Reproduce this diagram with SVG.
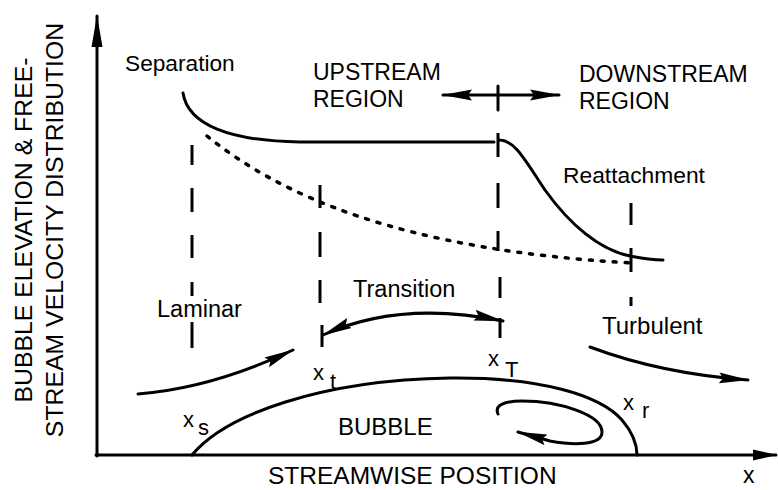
<svg xmlns="http://www.w3.org/2000/svg" width="778" height="490" viewBox="0 0 778 490">
<style>
.ln{fill:none;stroke:#000;stroke-width:3;stroke-linecap:round;stroke-linejoin:round}
.dash{fill:none;stroke:#000;stroke-width:3;stroke-linecap:butt}
.dot{fill:none;stroke:#000;stroke-width:3.5;stroke-linecap:round;stroke-dasharray:3 9}
.t{font-family:"Liberation Sans",Arial,Helvetica,sans-serif;fill:#000}
</style>
<defs>
<marker id="ah" markerUnits="userSpaceOnUse" viewBox="0 0 30 12" markerWidth="30" markerHeight="12" refX="29" refY="6" orient="auto-start-reverse">
<path d="M0,0.5 L30,6 L0,11.5 L4,6 Z" fill="#000"/>
</marker>
<marker id="axv" markerUnits="userSpaceOnUse" viewBox="0 0 32 12" markerWidth="32" markerHeight="12" refX="31" refY="6" orient="auto">
<path d="M0,0.5 L32,6 L0,11.5 Z" fill="#000"/>
</marker>
<marker id="axh" markerUnits="userSpaceOnUse" viewBox="0 0 24 12" markerWidth="24" markerHeight="12" refX="23" refY="6" orient="auto">
<path d="M0,0.5 L24,6 L0,11.5 Z" fill="#000"/>
</marker>
</defs>

<g id="axes">
<path class="ln" d="M97,456 L97,16" marker-end="url(#axv)"/>
<path class="ln" d="M96,455 L776,455" marker-end="url(#axh)"/>
</g>

<g id="connectors">
<path id="velocity" class="ln" d="M183,93 C188,125 230,141 300,142 L494,142"/>
<path id="velocity2" class="ln" d="M499,140 C515,140 525,160 545,190 C570,225 600,250 630,256 C645,259 655,260 663,260"/>
<path id="elevation" class="dot" d="M207,136 C280,195 400,250 632,263"/>
<path id="bubble" class="ln" d="M192,455 C225,415 320,380 450,378 C540,377 600,395 622,420 C633,433 637,445 637,455"/>
<path id="vortex" class="ln" d="M498,414 C494,405 505,401 522,401 C560,401 602,415 602,432 C602,446 572,445 550,441 L518,432" marker-end="url(#ah)"/>
<path id="laminar-arrow" class="ln" d="M138,394 C190,390 240,375 293,350" marker-end="url(#ah)"/>
<path id="turbulent-arrow" class="ln" d="M590,347 C630,362 680,375 748,380" marker-end="url(#ah)"/>
<path id="transition-arrow" class="ln" d="M323,335 Q400,300 503,321" marker-start="url(#ah)" marker-end="url(#ah)"/>
<path id="region-arrow" class="ln" d="M443,95 L559,95" marker-start="url(#ah)" marker-end="url(#ah)"/>
<path class="ln" d="M498,86 L498,110"/>
<path class="dash" d="M192,145 V165 M192,188 V212 M192,235 V258 M192,282 V296 M192,322 V348"/>
<path class="dash" d="M320,185 V208 M320,232 V257 M320,280 V303 M322,325 V347"/>
<path class="dash" d="M498,133 V157 M498,183 V208 M498,231 V251 M500,277 V298 M500,318 V338"/>
<path class="dash" d="M631,203 V225 M631,248 V272 M631,297 V306"/>
</g>

<g id="labels" class="t">
<text class="t" font-size="24.8" text-anchor="middle" transform="translate(32,230) rotate(-90)">BUBBLE ELEVATION &amp; FREE-</text>
<text class="t" font-size="24.8" text-anchor="middle" transform="translate(63,230) rotate(-90)">STREAM VELOCITY DISTRIBUTION</text>
<text class="t" x="125" y="71" font-size="22.7">Separation</text>
<text class="t" x="313" y="80" font-size="23">UPSTREAM</text>
<text class="t" x="313" y="107" font-size="23">REGION</text>
<text class="t" x="579" y="82" font-size="23">DOWNSTREAM</text>
<text class="t" x="579" y="109" font-size="23">REGION</text>
<text class="t" x="563" y="183" font-size="22.8">Reattachment</text>
<text class="t" x="157" y="317" font-size="23.5">Laminar</text>
<text class="t" x="353" y="297" font-size="23.5">Transition</text>
<text class="t" x="602" y="334" font-size="24">Turbulent</text>
<text class="t" x="338" y="435" font-size="24">BUBBLE</text>
<text class="t" x="268" y="484" font-size="24.5">STREAMWISE POSITION</text>
<text class="t" x="743" y="483" font-size="23">x</text>
<text class="t" x="183" y="427" font-size="22">x</text>
<text class="t" x="198" y="435" font-size="22">s</text>
<text class="t" x="313" y="380" font-size="22">x</text>
<text class="t" x="330" y="389" font-size="22">t</text>
<text class="t" x="488" y="366" font-size="22">x</text>
<text class="t" x="505" y="377" font-size="22">T</text>
<text class="t" x="623" y="410" font-size="22">x</text>
<text class="t" x="642" y="418" font-size="22">r</text>
</g>
</svg>
